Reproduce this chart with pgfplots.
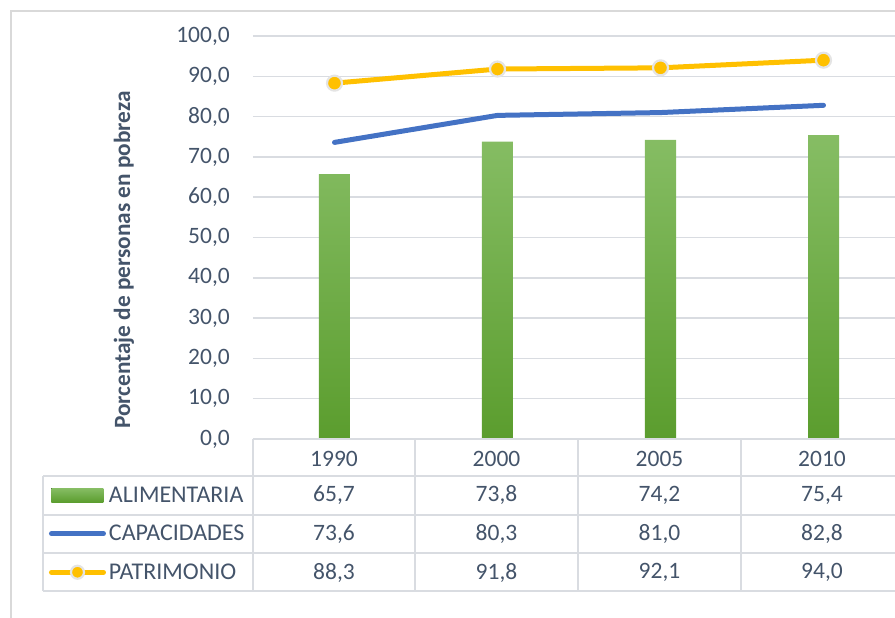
\documentclass[border=0pt]{standalone}
\usepackage{fontspec}
\setmainfont{Carlito}
\usepackage{pgfplots}
\pgfplotsset{compat=1.18}
\definecolor{textc}{HTML}{44546A}
\definecolor{gridc}{HTML}{D9DCE1}
\definecolor{barTop}{HTML}{86BD64}
\definecolor{barBot}{HTML}{5B9D2E}
\definecolor{capc}{HTML}{4472C4}
\definecolor{patc}{HTML}{FFC000}
\definecolor{markc}{HTML}{E4E4E4}
\definecolor{framec}{HTML}{D9D9D9}
\newcommand{\tfont}{\fontsize{23.5}{27}\selectfont}
\newcommand{\lfont}{\fontsize{24}{28}\selectfont}
\begin{document}
\begin{tikzpicture}[x=1pt,y=1pt]
\useasboundingbox (0,0) rectangle (895,618);
\clip (0,0) rectangle (895,618);
\draw[framec, line width=1.5pt] (11,-10) -- (11,607) -- (920,607);
\begin{axis}[at={(253pt,179pt)}, anchor=south west, scale only axis,
  width=652pt, height=403pt,
  xmin=-0.5, xmax=3.5, ymin=0, ymax=100,
  ytick={0,10,20,30,40,50,60,70,80,90,100}, xtick=\empty,
  axis line style={draw=none}, major tick length=0pt,
  ymajorgrids, grid style={gridc, line width=1.5pt},
  clip=false,
  /pgf/number format/.cd, fixed, fixed zerofill, precision=1, use comma, assume math mode=true, /pgfplots/.cd,
  yticklabel style={font=\tfont, text=textc, anchor=east, inner sep=0pt, xshift=-23pt},
  legend cell align=left,
  legend style={at={(-0.3129,-0.0918)}, anchor=north west, draw=none, fill=none,
    inner sep=0pt, outer sep=0pt, row sep=0pt,
    nodes={inner sep=0pt, minimum height=38.5pt, font=\lfont, text=textc},
    /tikz/every odd column/.append style={column sep=3pt}},
]
\addplot[ybar, bar width=31pt, draw=none, top color=barTop, bottom color=barBot,
  legend image code/.code={\fill[top color=barTop, bottom color=barBot, draw=none] (2pt,-7pt) rectangle (54pt,7pt);}]
  coordinates {(0,65.7) (1,73.8) (2,74.2) (3,75.4)};
\addlegendentry{ALIMENTARIA}
\addplot[capc, line width=5pt, line cap=round, line join=round, mark=none,
  legend image code/.code={\draw[capc, line width=5pt, line cap=round] (2pt,0pt) -- (54pt,0pt);}]
  coordinates {(0,73.6) (1,80.3) (2,81.0) (3,82.8)};
\addlegendentry{CAPACIDADES}
\addplot[patc, line width=5pt, line cap=round, line join=round, mark=*, mark size=7.5pt,
  mark options={fill=patc, draw=markc, line width=2.2pt},
  legend image code/.code={\draw[patc, line width=5pt, line cap=round, mark repeat=2, mark phase=2, mark size=6.5pt] plot coordinates {(2pt,0pt) (28pt,0pt) (54pt,0pt)};}]
  coordinates {(0,88.3) (1,91.8) (2,92.1) (3,94.0)};
\addlegendentry{PATRIMONIO}
\end{axis}
\begin{scope}[gridc, line width=1.5pt]
\draw (253,179) -- (920,179);
\foreach \y in {142,103,65,27} \draw (43,\y) -- (920,\y);
\draw (43,142) -- (43,27);
\foreach \x in {253,415,578,741,903} \draw (\x,179) -- (\x,27);
\end{scope}
\node[rotate=90, font=\bfseries\fontsize{23.3}{27}\selectfont, text=textc] at (124,358) {Porcentaje de personas en pobreza};
\begin{scope}[every node/.style={font=\tfont, text=textc, inner sep=0pt}]
\node at (334,159) {1990}; \node at (496.5,159) {2000}; \node at (659.5,159) {2005}; \node at (822,159) {2010};
\node at (334,123) {65,7}; \node at (496.5,123) {73,8}; \node at (659.5,123) {74,2}; \node at (822,123) {75,4};
\node at (334,84) {73,6}; \node at (496.5,84) {80,3}; \node at (659.5,84) {81,0}; \node at (822,84) {82,8};
\node at (334,45.5) {88,3}; \node at (496.5,45.5) {91,8}; \node at (659.5,45.5) {92,1}; \node at (822,45.5) {94,0};
\end{scope}
\end{tikzpicture}
\end{document}
